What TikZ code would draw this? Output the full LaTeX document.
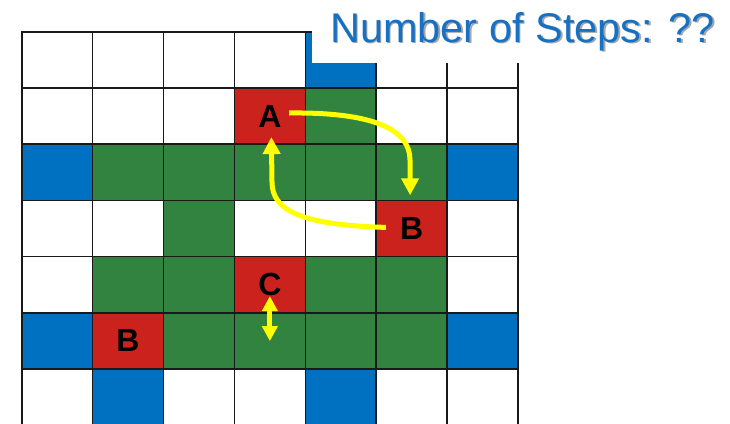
\documentclass[tikz,border=0pt]{standalone}
\usepackage{fontspec}
\setmainfont{Liberation Sans}
\usetikzlibrary{arrows.meta,calc}
\definecolor{cw}{RGB}{255,255,255}
\definecolor{cb}{RGB}{0,112,192}
\definecolor{cg}{RGB}{50,131,64}
\definecolor{cr}{RGB}{204,34,30}
\definecolor{titleblue}{RGB}{22,112,196}
\definecolor{yel}{RGB}{255,255,0}
\begin{document}
\begin{tikzpicture}[x=1pt,y=-1pt,
  cell/.style={draw=black!90, line width=1.6pt, minimum width=70.9pt, minimum height=56.2pt, inner sep=0pt, outer sep=0pt},
  lbl/.style={font=\bfseries\fontsize{32}{32}\selectfont, text=black, inner sep=0pt},
  yarrow/.style={draw=yel, line width=5pt, -{Triangle[width=17pt,length=17pt]}},
  yboth/.style={draw=yel, line width=5pt, {Triangle[width=15pt,length=15pt]}-{Triangle[width=15pt,length=15pt]}},
  title/.style={font=\fontsize{41.5}{41.5}\selectfont, inner sep=0pt, anchor=base west}
]
\useasboundingbox (0,0) rectangle (730,423);
\clip (0,0) rectangle (730,423);
\fill[white] (0,0) rectangle (730,423);
\foreach \r/\rowlist in {0/{w,w,w,w,b,w,w},1/{w,w,w,r,g,w,w},2/{b,g,g,g,g,g,b},3/{w,w,g,w,w,r,w},4/{w,g,g,r,g,g,w},5/{b,r,g,g,g,g,b},6/{w,b,w,w,b,w,w}}{
  \foreach \k [count=\ci from 0] in \rowlist {
    \node[cell, fill=c\k] (cell-\r-\ci) at ({21.7+(\ci+0.5)*70.9},{31.7+(\r+0.5)*56.2}) {};
  }
}
% title box
\fill[white] (311.5,0) rectangle (730,62.5);
\node[title, text=black!35] (titleshadow) at (331.6,43.6) {Number of Steps: ??};
\node[title, text=titleblue] (title) at (330,42) {Number of Steps: ??};
% labels
\node[lbl] (A) at (cell-1-3) {A};
\node[lbl] (B1) at (cell-3-5) {B};
\node[lbl] (C) at (cell-4-3) {C};
\node[lbl] (B2) at (cell-5-1) {B};
% arrows
\draw[yarrow] ($(A.east)+(7.5,-3)$) .. controls (375,112) and (410,130) .. (410,160) -- ($(cell-3-5.north)+(-1.5,-5)$);
\draw[yarrow] ($(B1.west)+(-14,-1)$) .. controls (300,225) and (272,210) .. (272,182) -- ($(cell-1-3.south)+(1.5,-7)$);
\draw[yboth] (C.south) -- ($(C.south)+(0,45)$);
\end{tikzpicture}
\end{document}
